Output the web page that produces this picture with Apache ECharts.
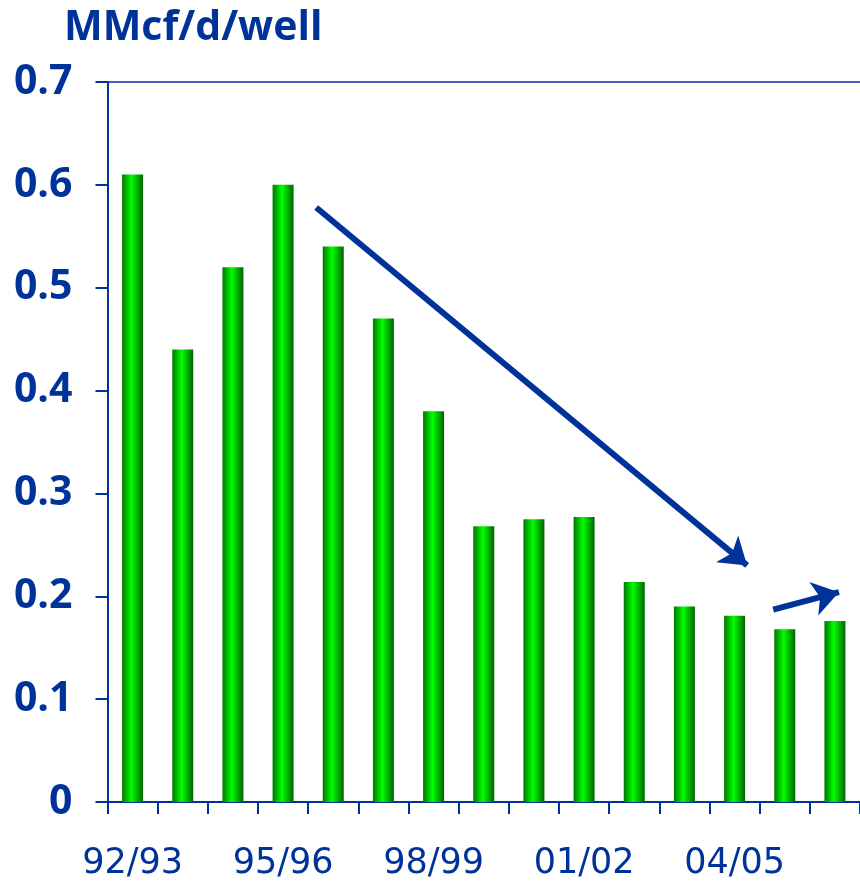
<!DOCTYPE html>
<html>
<head>
<meta charset="utf-8">
<script src="https://cdn.jsdelivr.net/npm/echarts@6/dist/echarts.min.js"></script>
<style>
  html, body { margin: 0; padding: 0; background: #fff; }
  #main { width: 860px; height: 882px; }
</style>
</head>
<body>
<div id="main"></div>
<script>
// seasons on the x axis
const seasons = ['92/93', '93/94', '94/95', '95/96', '96/97', '97/98', '98/99', '99/00',
  '00/01', '01/02', '02/03', '03/04', '04/05', '05/06', '06/07']
// production per well, MMcf/d
const perWell = [0.61, 0.44, 0.52, 0.60, 0.54, 0.47, 0.38, 0.268, 0.275, 0.277, 0.214, 0.19, 0.181, 0.168, 0.176]
// trend arrows: [season index, value] start -> end
const trendDown = [[3.66, 0.578], [12.25, 0.23]]
const trendUp = [[12.77, 0.187], [14.08, 0.204]]

const blue = '#003399'
const chart = echarts.init(document.getElementById('main'))

chart.setOption({
  animation: false,
  title: {
    text: 'MMcf/d/well',
    left: 59,
    top: 3,
    textStyle: {
      color: blue,
      fontFamily: 'Open Sans',
      fontWeight: 'bold',
      fontSize: 41
    }
  },
  grid: { left: 107.5, top: 82, width: 758, height: 720 },
  xAxis: [
    {
      type: 'category',
      data: seasons,
      axisLine: { onZero: false, lineStyle: { color: blue, width: 2 } },
      axisTick: { show: true, interval: 0, length: 12, lineStyle: { color: blue, width: 2 } },
      axisLabel: {
        interval: 2,
        margin: 44,
        color: blue,
        fontFamily: 'DejaVu Sans',
        fontSize: 35
      }
    },
    {
      // thin frame line along the top
      type: 'category',
      position: 'top',
      data: seasons,
      axisLine: { onZero: false, lineStyle: { color: blue, width: 1.5 } },
      axisTick: { show: false },
      axisLabel: { show: false }
    },
    {
      // hidden continuous axis for the trend arrows
      type: 'value',
      min: -0.5,
      max: 14.5,
      show: false
    }
  ],
  yAxis: {
    type: 'value',
    min: 0,
    max: 0.7,
    interval: 0.1,
    axisLine: { show: true, onZero: false, lineStyle: { color: blue, width: 2 } },
    axisTick: { show: true, length: 12, lineStyle: { color: blue, width: 2 } },
    splitLine: { show: false },
    axisLabel: {
      margin: 35,
      color: blue,
      fontFamily: 'Open Sans',
      fontWeight: 'bold',
      fontSize: 41,
      formatter: v => (v === 0 ? '0' : v.toFixed(1))
    }
  },
  series: [
    {
      type: 'bar',
      data: perWell,
      barWidth: 21,
      itemStyle: {
        color: new echarts.graphic.LinearGradient(0, 0, 1, 0, [
          { offset: 0, color: '#007800' },
          { offset: 0.45, color: '#00ff00' },
          { offset: 1, color: '#006400' }
        ])
      }
    },
    {
      type: 'lines',
      coordinateSystem: 'cartesian2d',
      xAxisIndex: 2,
      silent: true,
      symbol: ['none', 'arrow'],
      symbolSize: [22, 26],
      lineStyle: { color: blue, width: 6, opacity: 1 },
      data: [
        { coords: trendDown },
        { coords: trendUp }
      ]
    }
  ]
})
</script>
</body>
</html>
